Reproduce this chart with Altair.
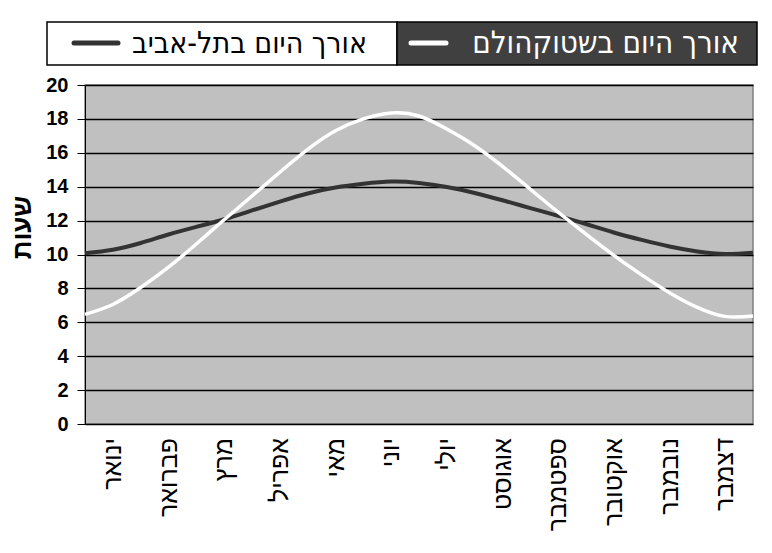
import altair as alt
import pandas as pd

# Month labels (x axis) and their mid-month positions
months = ["ינואר", "פברואר", "מרץ", "אפריל", "מאי", "יוני",
          "יולי", "אוגוסט", "ספטמבר", "אוקטובר", "נובמבר", "דצמבר"]
month_mid = [0.5, 1.5, 2.5, 3.5, 4.5, 5.5, 6.5, 7.5, 8.5, 9.5, 10.5, 11.5]
month_edges = [0, 1, 2, 3, 4, 5, 6, 7, 8, 9, 10, 11, 12]

# Sample points (in months from 1 January)
t = [0, 0.5, 1, 1.5, 2, 2.5, 3, 3.5, 4, 4.5, 5, 5.5, 6,
     6.5, 7, 7.5, 8, 8.5, 9, 9.5, 10, 10.5, 11, 11.5, 12]
tel_aviv = [10.08, 10.28, 10.68, 11.18, 11.63, 12.08, 12.6, 13.12, 13.6, 13.95, 14.17, 14.3, 14.22,
            13.98, 13.63, 13.2, 12.74, 12.28, 11.8, 11.3, 10.86, 10.47, 10.18, 10.03, 10.1]
stockholm = [6.47, 7.05, 8.05, 9.25, 10.62, 12.05, 13.45, 14.85, 16.2, 17.3, 18.0, 18.35, 18.17,
             17.4, 16.42, 15.2, 13.85, 12.5, 11.2, 9.95, 8.8, 7.75, 6.88, 6.35, 6.37]
y_ticks = [0, 2, 4, 6, 8, 10, 12, 14, 16, 18, 20]

legend_labels = ["אורך היום בתל-אביב", "אורך היום בשטוקהולם"]
y_title = "שעות"

W, H = 668, 339
FONT = "Liberation Sans, Arial, sans-serif"
NARROW = "Liberation Sans Narrow, Arial Narrow, DejaVu Sans Condensed, sans-serif"

ta_df = pd.DataFrame({"t": t, "hours": tel_aviv})
st_df = pd.DataFrame({"t": t, "hours": stockholm})
mon_df = pd.DataFrame({"t": month_mid, "month": months})
one = pd.DataFrame({"a": [0]})

x_enc = alt.X("t:Q", scale=alt.Scale(domain=[0, 12], nice=False, zero=False),
              axis=alt.Axis(values=month_edges, labels=False, title=None, ticks=True,
                            tickSize=8, tickColor="black", tickWidth=1,
                            domainColor="black", domainWidth=1, grid=False))
y_enc = alt.Y("hours:Q", scale=alt.Scale(domain=[0, 20], nice=False),
              axis=alt.Axis(values=y_ticks, title=y_title, titleFont=FONT,
                            titleFontSize=26, titleFontWeight="bold", titleColor="black",
                            titleAngle=270, titleX=-63, titleY=142,
                            titleAlign="center", titleBaseline="middle",
                            labelFont=FONT, labelFontSize=20, labelFontWeight="bold",
                            labelColor="black", labelPadding=9,
                            tickSize=8, tickColor="black", domainColor="black",
                            gridColor="black", gridWidth=1.5, gridOpacity=1))

ta_line = alt.Chart(ta_df).mark_line(color="#333333", strokeWidth=4,
                                     interpolate="natural").encode(x=x_enc, y=y_enc)
st_line = alt.Chart(st_df).mark_line(color="white", strokeWidth=3.5,
                                     interpolate="natural").encode(x=x_enc, y=y_enc)

month_text = alt.Chart(mon_df).mark_text(
    angle=270, align="right", baseline="middle", fontSize=25, font=FONT, color="black"
).encode(x=alt.X("t:Q", axis=None), y=alt.value(H + 14), text="month:N")

# Legend drawn at top
box_white = alt.Chart(one).mark_rect(fill="white", stroke="black", strokeWidth=1.5).encode(
    x=alt.value(-38), x2=alt.value(312), y=alt.value(-63), y2=alt.value(-20))
box_dark = alt.Chart(one).mark_rect(fill="#404040", stroke="black", strokeWidth=1.5).encode(
    x=alt.value(312), x2=alt.value(672), y=alt.value(-63), y2=alt.value(-20))
sym_dark = alt.Chart(one).mark_rule(color="#333333", strokeWidth=5, strokeCap="round").encode(
    x=alt.value(-11), x2=alt.value(33), y=alt.value(-42))
sym_white = alt.Chart(one).mark_rule(color="white", strokeWidth=5, strokeCap="round").encode(
    x=alt.value(326), x2=alt.value(361), y=alt.value(-42))
txt_ta = alt.Chart(one).mark_text(align="right", baseline="middle", fontSize=30,
                                  font=NARROW, color="black").encode(
    x=alt.value(282), y=alt.value(-41), text=alt.value(legend_labels[0]))
txt_st = alt.Chart(one).mark_text(align="right", baseline="middle", fontSize=31,
                                  font=NARROW, color="white").encode(
    x=alt.value(654), y=alt.value(-41), text=alt.value(legend_labels[1]))

chart = alt.layer(
    ta_line, st_line, month_text,
    box_white, box_dark, sym_dark, sym_white, txt_ta, txt_st
).properties(
    width=W, height=H,
    autosize=alt.AutoSizeParams(type="none"),
    padding={"left": 77, "top": 77, "right": 11, "bottom": 115},
    background="white",
).configure_view(fill="#C0C0C0", stroke="#808080", strokeWidth=1.5)

chart.save("out.html", embed_options={"renderer": "svg", "actions": False})
